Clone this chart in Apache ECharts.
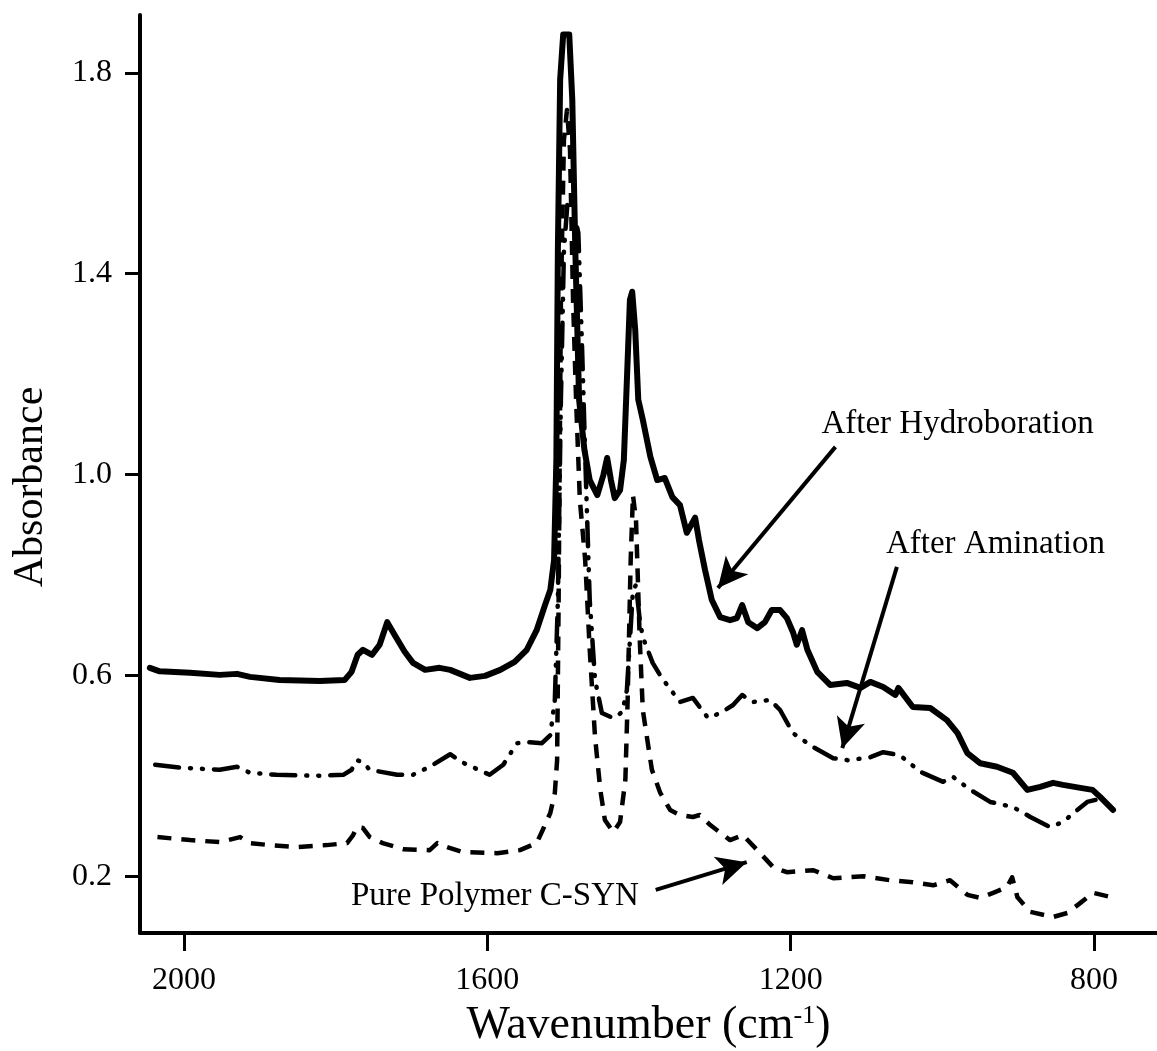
<!DOCTYPE html>
<html>
<head>
<meta charset="utf-8">
<script src="https://cdn.jsdelivr.net/npm/echarts@6/dist/echarts.min.js"></script>
<style>
  html, body { margin: 0; padding: 0; background: #fff; }
  #chart { width: 1157px; height: 1051px; }
</style>
</head>
<body>
<div id="chart"></div>
<script>
// tick positions
const xTicks = [2000, 1600, 1200, 800];
const yTicks = [0.2, 0.6, 1.0, 1.4, 1.8];

// After Hydroboration (solid)
const hydroWn = [2045, 2032, 1992, 1953, 1930, 1913, 1874, 1821, 1788, 1779, 1771, 1764, 1752, 1742, 1732, 1722, 1709, 1698, 1682, 1663,
  1649, 1623, 1603, 1583, 1564, 1548, 1535, 1524, 1517, 1512, 1509, 1507, 1504, 1500, 1492, 1488, 1484, 1479, 1472, 1465,
  1455, 1447, 1442, 1437, 1432, 1425, 1420, 1416, 1412, 1409, 1405, 1401, 1395, 1385, 1376, 1366, 1356, 1346, 1337, 1326,
  1321, 1313, 1304, 1293, 1280, 1271, 1264, 1256, 1244, 1234, 1225, 1214, 1205, 1197, 1192, 1185, 1178, 1165, 1148, 1126,
  1108, 1095, 1078, 1062, 1058, 1039, 1016, 994, 980, 967, 950, 928, 907, 888, 871, 854, 841, 818, 802, 792, 775];
const hydroAbs = [0.615, 0.608, 0.605, 0.601, 0.603, 0.597, 0.591, 0.589, 0.591, 0.607, 0.641, 0.651, 0.641, 0.661, 0.706, 0.680, 0.647, 0.625, 0.611, 0.615,
  0.611, 0.595, 0.599, 0.611, 0.627, 0.651, 0.690, 0.740, 0.770, 0.830, 1.029, 1.447, 1.786, 1.876, 1.876, 1.746, 1.447, 1.149, 1.049, 0.989,
  0.959, 0.999, 1.033, 0.989, 0.953, 0.969, 1.029, 1.188, 1.348, 1.364, 1.288, 1.149, 1.109, 1.035, 0.989, 0.993, 0.955, 0.939, 0.884, 0.914,
  0.870, 0.810, 0.750, 0.716, 0.710, 0.714, 0.740, 0.706, 0.694, 0.706, 0.730, 0.730, 0.714, 0.686, 0.661, 0.690, 0.651, 0.607, 0.581, 0.585,
  0.575, 0.587, 0.577, 0.561, 0.575, 0.537, 0.535, 0.511, 0.485, 0.445, 0.425, 0.418, 0.406, 0.372, 0.378, 0.386, 0.382, 0.376, 0.372, 0.358, 0.332];

// After Amination (dash-dot-dot)
const amineWn = [2038, 2002, 1953, 1930, 1913, 1878, 1825, 1790, 1779, 1772, 1764, 1755, 1719, 1698, 1676, 1649, 1632, 1597, 1579, 1561,
  1544, 1528, 1517, 1511, 1507, 1503, 1499, 1494, 1488, 1480, 1475, 1470, 1465, 1458, 1449, 1434, 1422, 1416, 1412, 1408,
  1404, 1399, 1395, 1382, 1370, 1346, 1329, 1309, 1293, 1276, 1264, 1250, 1227, 1214, 1197, 1170, 1144, 1124, 1095, 1078,
  1056, 1029, 999, 986, 963, 937, 907, 884, 858, 841, 827, 809, 798];
const amineAbs = [0.422, 0.416, 0.412, 0.418, 0.406, 0.402, 0.400, 0.402, 0.412, 0.431, 0.427, 0.412, 0.402, 0.402, 0.418, 0.443, 0.426, 0.402, 0.422, 0.465,
  0.467, 0.465, 0.481, 0.551, 0.750, 1.149, 1.447, 1.547, 1.537, 1.481, 1.248, 0.989, 0.750, 0.591, 0.525, 0.515, 0.527, 0.571, 0.670, 0.770,
  0.780, 0.710, 0.676, 0.625, 0.595, 0.547, 0.555, 0.515, 0.525, 0.541, 0.561, 0.547, 0.551, 0.531, 0.485, 0.457, 0.435, 0.431, 0.437, 0.447,
  0.441, 0.408, 0.388, 0.398, 0.372, 0.348, 0.338, 0.318, 0.298, 0.308, 0.326, 0.348, 0.352];

// Pure Polymer C-SYN (dashed)
const pureWn = [2035, 1992, 1953, 1926, 1913, 1887, 1851, 1812, 1785, 1777, 1772, 1764, 1755, 1738, 1711, 1676, 1666, 1653, 1632, 1587,
  1557, 1535, 1527, 1517, 1511, 1508, 1506, 1503, 1499, 1495, 1491, 1487, 1483, 1478, 1471, 1465, 1458, 1451, 1445, 1434,
  1425, 1418, 1415, 1411, 1408, 1404, 1399, 1395, 1389, 1383, 1372, 1359, 1346, 1329, 1320, 1306, 1280, 1263, 1244, 1223,
  1205, 1170, 1144, 1104, 1069, 1039, 1012, 990, 967, 950, 933, 915, 908, 901, 884, 854, 835, 818, 801, 779];
const pureAbs = [0.278, 0.272, 0.268, 0.278, 0.266, 0.262, 0.258, 0.262, 0.266, 0.282, 0.298, 0.296, 0.278, 0.266, 0.254, 0.252, 0.266, 0.258, 0.248, 0.246,
  0.252, 0.266, 0.292, 0.326, 0.366, 0.431, 0.750, 1.348, 1.667, 1.726, 1.647, 1.348, 1.149, 0.949, 0.830, 0.651, 0.477, 0.372, 0.312, 0.288,
  0.308, 0.392, 0.551, 0.830, 0.959, 0.910, 0.670, 0.531, 0.471, 0.412, 0.366, 0.332, 0.322, 0.318, 0.322, 0.302, 0.272, 0.282, 0.252, 0.218,
  0.208, 0.212, 0.196, 0.200, 0.192, 0.188, 0.182, 0.192, 0.163, 0.157, 0.167, 0.178, 0.198, 0.158, 0.129, 0.119, 0.127, 0.147, 0.167, 0.159];

// annotations, in data units
const arrows = [
  { from: [1141, 1.055], to: [1296, 0.774] },
  { from: [1060, 0.816], to: [1132, 0.455] },
  { from: [1378, 0.173], to: [1258, 0.228] }
];
const notes = [
  { text: 'After Hydroboration', at: [980, 1.099] },
  { text: 'After Amination', at: [930, 0.860] },
  { text: 'Pure Polymer C-SYN', at: [1590, 0.160] }
];

function pairs(xs, ys) {
  return xs.map((x, i) => [x, ys[i]]);
}

const serif = "'Liberation Serif', 'Times New Roman', serif";

var chart = echarts.init(document.getElementById('chart'));

const option = {
  animation: false,
  backgroundColor: '#fff',
  grid: { left: 140, right: 0, top: 15, bottom: 118, outerBoundsMode: 'none', containLabel: false },
  xAxis: {
    type: 'value',
    inverse: true,
    min: 717,
    max: 2058,
    name: 'Wavenumber (cm{sup|-1})',
    nameLocation: 'middle',
    nameGap: 70,
    nameTextStyle: {
      fontFamily: serif, fontSize: 46, color: '#000',
      rich: { sup: { fontFamily: serif, fontSize: 26, color: '#000', verticalAlign: 'top', lineHeight: 44 } }
    },
    axisLine: { lineStyle: { color: '#000', width: 4 } },
    axisTick: { show: true, length: 18, customValues: xTicks, lineStyle: { color: '#000', width: 3 } },
    axisLabel: {
      customValues: xTicks, fontFamily: serif, fontSize: 32, color: '#000', margin: 32,
      formatter: v => String(v)
    },
    splitLine: { show: false }
  },
  yAxis: {
    type: 'value',
    min: 0.087,
    max: 1.915,
    name: 'Absorbance',
    nameLocation: 'middle',
    nameGap: 88,
    nameTextStyle: { fontFamily: serif, fontSize: 42, color: '#000', padding: [0, 26, 0, 0] },
    axisLine: { show: true, lineStyle: { color: '#000', width: 4 } },
    axisTick: { show: true, length: 15, customValues: yTicks, lineStyle: { color: '#000', width: 3 } },
    axisLabel: {
      customValues: yTicks, fontFamily: serif, fontSize: 32, color: '#000', margin: 28,
      formatter: v => v.toFixed(1)
    },
    splitLine: { show: false }
  },
  series: [
    {
      name: 'After Hydroboration',
      type: 'line',
      data: pairs(hydroWn, hydroAbs),
      symbol: 'none',
      z: 3,
      lineStyle: { color: '#000', width: 6, join: 'round', cap: 'round' },
      markLine: {
        silent: true,
        symbol: ['none', 'arrow'],
        symbolSize: [22, 30],
        label: { show: false },
        lineStyle: { color: '#000', width: 4, type: 'solid' },
        data: arrows.map(a => [{ coord: a.from }, { coord: a.to }])
      },
      markPoint: {
        silent: true,
        symbol: 'circle',
        symbolSize: 1,
        itemStyle: { color: 'rgba(0,0,0,0)' },
        label: { show: true, position: 'inside', formatter: '{b}', fontFamily: serif, fontSize: 33, color: '#000' },
        data: notes.map(n => ({ name: n.text, coord: n.at }))
      }
    },
    {
      name: 'After Amination',
      type: 'line',
      data: pairs(amineWn, amineAbs),
      symbol: 'none',
      lineStyle: { color: '#000', width: 4.5, type: [24, 11, 1, 11, 1, 11], cap: 'round', join: 'round' }
    },
    {
      name: 'Pure Polymer C-SYN',
      type: 'line',
      data: pairs(pureWn, pureAbs),
      symbol: 'none',
      lineStyle: { color: '#000', width: 4.5, type: [14, 10], join: 'round' }
    }
  ]
};

chart.setOption(option);
</script>
</body>
</html>
